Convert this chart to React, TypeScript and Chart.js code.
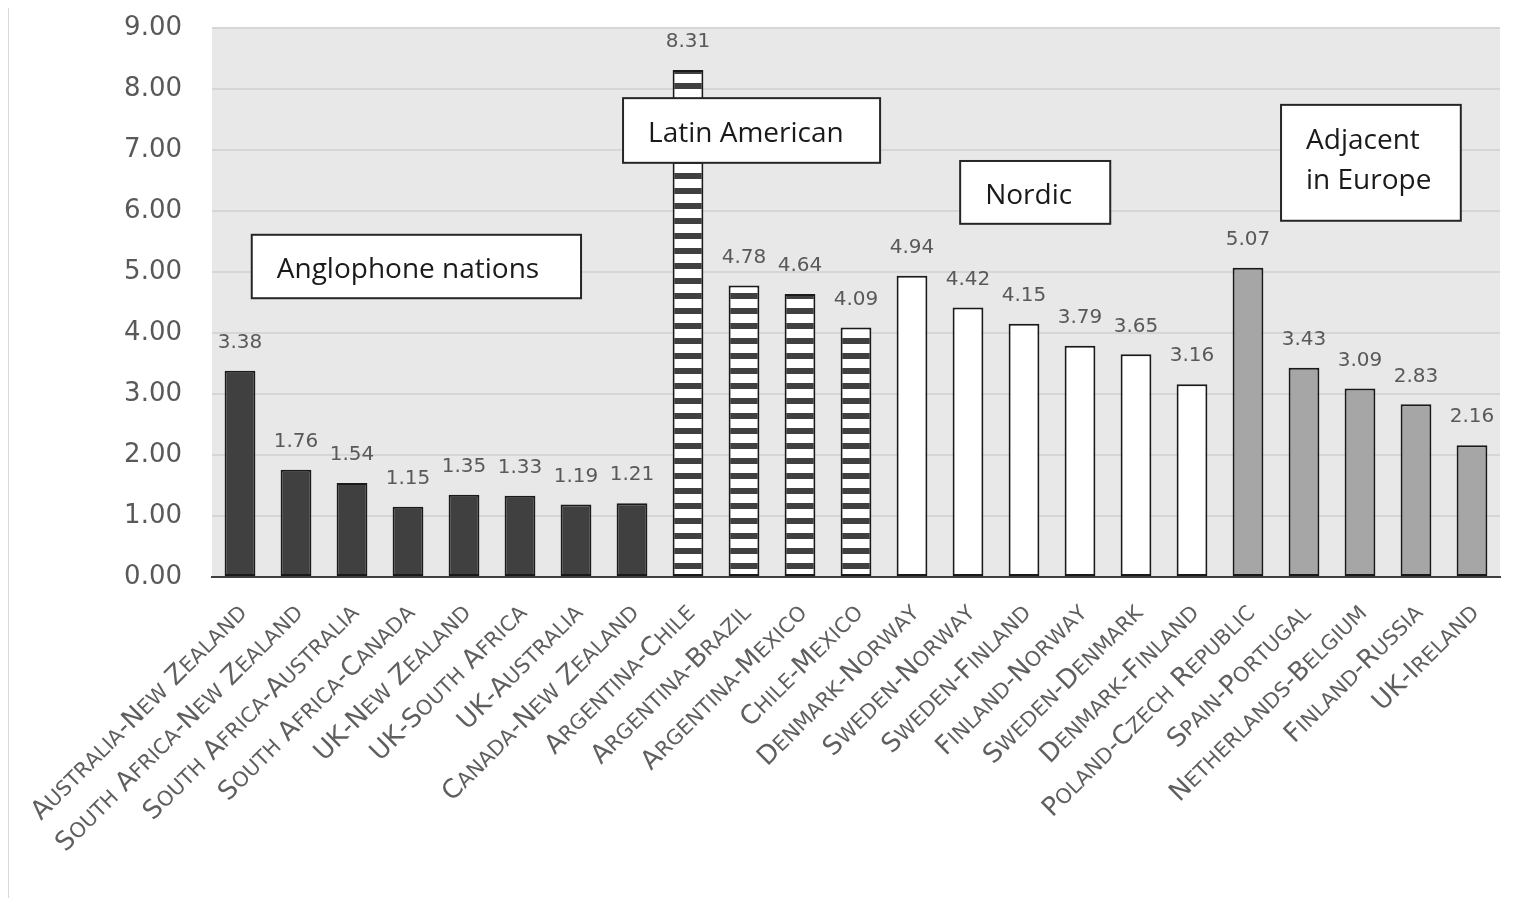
import React, { useEffect, useRef } from 'react';
import { Chart, registerables } from 'chart.js';

Chart.register(...registerables);

const categories = [
  'Australia-New Zealand',
  'South Africa-New Zealand',
  'South Africa-Australia',
  'South Africa-Canada',
  'UK-New Zealand',
  'UK-South Africa',
  'UK-Australia',
  'Canada-New Zealand',
  'Argentina-Chile',
  'Argentina-Brazil',
  'Argentina-Mexico',
  'Chile-Mexico',
  'Denmark-Norway',
  'Sweden-Norway',
  'Sweden-Finland',
  'Finland-Norway',
  'Sweden-Denmark',
  'Denmark-Finland',
  'Poland-Czech Republic',
  'Spain-Portugal',
  'Netherlands-Belgium',
  'Finland-Russia',
  'UK-Ireland',
];

const values = [
  3.38, 1.76, 1.54, 1.15, 1.35, 1.33, 1.19, 1.21,
  8.31, 4.78, 4.64, 4.09,
  4.94, 4.42, 4.15, 3.79, 3.65, 3.16,
  5.07, 3.43, 3.09, 2.83, 2.16,
];

// group of each category: 0 Anglophone, 1 Latin American, 2 Nordic, 3 Adjacent in Europe
const groupOf = [0, 0, 0, 0, 0, 0, 0, 0, 1, 1, 1, 1, 2, 2, 2, 2, 2, 2, 3, 3, 3, 3, 3];

const groupTitles = [['Anglophone nations'], ['Latin American'], ['Nordic'], ['Adjacent', 'in Europe']];

const yTicks = [0, 1, 2, 3, 4, 5, 6, 7, 8, 9];

// annotation box extents in data units (category index, value)
const boxXRange = [[0.21, 6.09], [6.84, 11.43], [12.86, 15.54], [18.59, 21.8]];
const boxYRange = [[5.61, 4.57], [7.85, 6.79], [6.82, 5.79], [7.74, 5.84]];

const NUM_FONT = "'DejaVu Sans'";
const BOX_FONT = "'Open Sans'";

function drawSmallCaps(c: CanvasRenderingContext2D, text: string, size: number, ratio: number) {
  const segs: { t: string; s: number; w: number }[] = [];
  for (const ch of text) {
    const lower = ch !== ch.toUpperCase();
    segs.push({ t: ch.toUpperCase(), s: lower ? size * ratio : size, w: 0 });
  }
  let total = 0;
  segs.forEach((g) => {
    c.font = `${g.s}px ${NUM_FONT}`;
    g.w = c.measureText(g.t).width;
    total += g.w;
  });
  let x = -total;
  segs.forEach((g) => {
    c.font = `${g.s}px ${NUM_FONT}`;
    c.fillText(g.t, x, 0);
    x += g.w;
  });
}

export default function App() {
  const ref = useRef<HTMLCanvasElement | null>(null);

  useEffect(() => {
    const canvas = ref.current;
    if (!canvas) return;
    const ctx = canvas.getContext('2d')!;

    const pc = document.createElement('canvas');
    pc.width = 8;
    pc.height = 15;
    const pctx = pc.getContext('2d')!;
    pctx.fillStyle = '#ffffff';
    pctx.fillRect(0, 0, 8, 15);
    pctx.fillStyle = '#404040';
    pctx.fillRect(0, 0, 8, 6);
    const stripes = ctx.createPattern(pc, 'repeat')!;

    const fills = ['#404040', stripes, '#ffffff', '#a6a6a6'];
    const bgColors = groupOf.map((g) => fills[g]);

    const plotBg = {
      id: 'plotBg',
      beforeDraw(chart: any) {
        const { ctx: c, chartArea: a } = chart;
        c.save();
        c.fillStyle = '#e8e8e8';
        c.fillRect(a.left, a.top, a.right - a.left, a.bottom - a.top);
        c.restore();
      },
    };

    const xLabels = {
      id: 'xLabels',
      afterDraw(chart: any) {
        const c = chart.ctx;
        const xs = chart.scales.x;
        const bottom = chart.chartArea.bottom;
        c.save();
        c.fillStyle = '#5f5f5f';
        c.textAlign = 'left';
        c.textBaseline = 'alphabetic';
        categories.forEach((lab, i) => {
          const px = xs.getPixelForTick(i);
          c.save();
          c.translate(px + 8, bottom + 37);
          c.rotate(-Math.PI / 4);
          drawSmallCaps(c, lab, 26, 0.8);
          c.restore();
        });
        c.restore();
      },
    };

    const labelsAndBoxes = {
      id: 'labelsAndBoxes',
      afterDatasetsDraw(chart: any) {
        const c = chart.ctx;
        const meta = chart.getDatasetMeta(0);
        c.save();
        c.font = `20px ${NUM_FONT}`;
        c.fillStyle = '#595959';
        c.textAlign = 'center';
        c.textBaseline = 'middle';
        meta.data.forEach((bar: any, i: number) => {
          c.fillText(values[i].toFixed(2), bar.x, bar.y - 28);
        });
        const xs = chart.scales.x;
        const ys = chart.scales.y;
        groupTitles.forEach((lines, i) => {
          const x0 = xs.getPixelForValue(boxXRange[i][0]);
          const x1 = xs.getPixelForValue(boxXRange[i][1]);
          const y0 = ys.getPixelForValue(boxYRange[i][0]);
          const y1 = ys.getPixelForValue(boxYRange[i][1]);
          c.fillStyle = '#ffffff';
          c.fillRect(x0, y0, x1 - x0, y1 - y0);
          c.strokeStyle = '#262626';
          c.lineWidth = 2;
          c.strokeRect(x0, y0, x1 - x0, y1 - y0);
          c.fillStyle = '#1a1a1a';
          c.font = `28px ${BOX_FONT}`;
          c.textAlign = 'left';
          c.textBaseline = 'middle';
          const lh = 40;
          const cy = (y0 + y1) / 2 - ((lines.length - 1) * lh) / 2 + (lines.length > 1 ? -2 : 4);
          lines.forEach((t, k) => c.fillText(t, x0 + 25, cy + k * lh));
        });
        c.restore();
      },
    };

    const chart = new Chart(ctx, {
      type: 'bar',
      data: {
        labels: categories,
        datasets: [
          {
            data: values,
            backgroundColor: bgColors as any,
            borderColor: '#1a1a1a',
            borderWidth: 2,
            borderSkipped: false,
            barPercentage: 0.55,
            categoryPercentage: 1,
          },
        ],
      },
      options: {
        responsive: false,
        animation: false,
        layout: { padding: { top: 20, right: 39, left: 0, bottom: 0 }, autoPadding: false },
        plugins: { legend: { display: false }, tooltip: { enabled: false } },
        scales: {
          x: {
            offset: true,
            grid: { display: false },
            border: { display: true, color: '#404040', width: 2 },
            ticks: { display: false, autoSkip: false },
            afterFit(scale: any) {
              scale.height = 321;
              scale.paddingLeft = 0;
              scale.paddingRight = 0;
              scale.paddingTop = 0;
              scale.paddingBottom = 0;
            },
          },
          y: {
            min: 0,
            max: 9,
            afterBuildTicks(scale: any) {
              scale.ticks = yTicks.map((v) => ({ value: v }));
            },
            grid: { color: '#d6d6d6', lineWidth: 2, drawTicks: false },
            border: { display: false },
            ticks: {
              padding: 30,
              color: '#595959',
              font: { family: NUM_FONT, size: 26 },
              callback: (v: any) => Number(v).toFixed(2),
            },
            afterFit(scale: any) {
              scale.width = 203;
              scale.paddingTop = 0;
              scale.paddingBottom = 0;
              scale.paddingLeft = 0;
              scale.paddingRight = 0;
            },
          },
        },
      },
      plugins: [plotBg, labelsAndBoxes, xLabels],
    });
    return () => chart.destroy();
  }, []);

  return (
    <div
      style={{
        marginTop: -1,
        borderTop: '1px solid #d9d9d9',
        borderLeft: '1px solid #d9d9d9',
        width: 'calc(100vw - 8px)',
        height: 891,
        boxSizing: 'border-box',
        overflow: 'hidden',
      }}
    >
      <canvas ref={ref} width={1530} height={890} style={{ display: 'block' }} />
    </div>
  );
}
